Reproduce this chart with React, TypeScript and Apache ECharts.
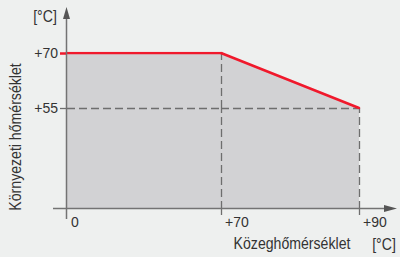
import React, { useEffect, useRef } from "react";
import * as echarts from "echarts";

// Characteristic: ambient temperature limit vs. medium temperature
const mediumTemps = [0, 70, 90]; // x break points [°C]
const ambientLimits = [70, 70, 55]; // y values at those points [°C]
const refLevel = 55; // lower ambient reference level
const xTickLabels = [0, 70, 90];
const yTickLabels = [55, 70];

const FILL = "#d2d2d4";
const RED = "#f0192c";
const DASH = "#6e6e6e";
const AXIS = "#737373";
const TXT = "#333333";
const FONT = "'Liberation Sans', Arial, sans-serif";

export default function App() {
  const ref = useRef<HTMLDivElement>(null);
  useEffect(() => {
    if (!ref.current) return;
    const chart = echarts.init(ref.current, undefined, { renderer: "svg" });
    const fmt = (v: number) => (v === 0 ? "0" : "+" + v);
    const dashed = { color: DASH, width: 1.3, type: [8, 4] as any };
    const noAxis = { show: false };
    const grids = [
      { left: 67, top: 108, width: 154, height: 101 }, // A: 0..70 x 0..55
      { left: 67, top: 53, width: 154, height: 55 }, // B: 0..70 x 55..70
      { left: 221, top: 108, width: 138, height: 101 }, // C: 70..90 x 0..55
      { left: 221, top: 53, width: 138, height: 55 }, // D: 70..90 x 55..70
    ].map((g) => ({ ...g, outerBoundsMode: "none", containLabel: false }));

    const xLab = {
      color: TXT,
      fontSize: 14,
      fontFamily: FONT,
      align: "left",
      margin: 6,
      padding: [0, 0, 0, 4],
      formatter: fmt,
    };
    const xAxes = [
      {
        gridIndex: 0, type: "value", min: mediumTemps[0], max: mediumTemps[1],
        axisLine: noAxis, splitLine: noAxis, axisTick: noAxis,
        axisLabel: { ...xLab, customValues: [xTickLabels[0]] },
      },
      {
        gridIndex: 1, type: "value", min: mediumTemps[0], max: mediumTemps[1],
        axisLine: noAxis, splitLine: noAxis, axisTick: noAxis, axisLabel: noAxis,
      },
      {
        gridIndex: 2, type: "value", min: mediumTemps[1], max: mediumTemps[2],
        axisLine: noAxis, splitLine: noAxis,
        axisTick: { show: true, length: 6, customValues: [mediumTemps[1], mediumTemps[2]], lineStyle: { color: DASH, width: 1.3 } },
        axisLabel: { ...xLab, customValues: [xTickLabels[1], xTickLabels[2]] },
      },
      {
        gridIndex: 3, type: "value", min: mediumTemps[1], max: mediumTemps[2],
        axisLine: noAxis, splitLine: noAxis, axisTick: noAxis, axisLabel: noAxis,
      },
    ];
    const yLab = { color: TXT, fontSize: 14, fontFamily: FONT, margin: 9, formatter: fmt };
    const yAxes = [
      {
        gridIndex: 0, type: "value", min: 0, max: refLevel,
        axisLine: noAxis, splitLine: noAxis,
        axisTick: { show: true, length: 7, customValues: [refLevel], lineStyle: { color: DASH, width: 1.3 } },
        axisLabel: { ...yLab, customValues: [yTickLabels[0]] },
      },
      {
        gridIndex: 1, type: "value", min: refLevel, max: ambientLimits[0],
        axisLine: noAxis, splitLine: noAxis,
        axisTick: { show: true, length: 7, customValues: [ambientLimits[0]], lineStyle: { color: RED, width: 2.5 } },
        axisLabel: { ...yLab, customValues: [yTickLabels[1]] },
      },
      {
        gridIndex: 2, type: "value", min: 0, max: refLevel,
        axisLine: noAxis, splitLine: noAxis, axisTick: noAxis, axisLabel: noAxis,
      },
      {
        gridIndex: 3, type: "value", min: refLevel, max: ambientLimits[0],
        axisLine: noAxis, splitLine: noAxis, axisTick: noAxis, axisLabel: noAxis,
      },
    ];

    const mlBase = { symbol: "none", silent: true, label: { show: false }, lineStyle: dashed };
    const series: any[] = [
      {
        type: "line", xAxisIndex: 0, yAxisIndex: 0, symbol: "none", z: 1,
        data: [[mediumTemps[0], refLevel], [mediumTemps[1], refLevel]],
        lineStyle: { width: 0, opacity: 0 },
        areaStyle: { color: FILL, opacity: 1, origin: "start" },
        markLine: { ...mlBase, data: [{ yAxis: refLevel }, { xAxis: mediumTemps[1] }] },
      },
      {
        type: "line", xAxisIndex: 1, yAxisIndex: 1, symbol: "none", z: 3,
        data: [[mediumTemps[0], ambientLimits[0]], [mediumTemps[1], ambientLimits[1]]],
        lineStyle: { width: 0, opacity: 0 },
        areaStyle: { color: FILL, opacity: 1, origin: "start" },
        markLine: { ...mlBase, data: [{ xAxis: mediumTemps[1] }] },
      },
      {
        type: "line", xAxisIndex: 2, yAxisIndex: 2, symbol: "none", z: 1,
        data: [[mediumTemps[1], refLevel], [mediumTemps[2], refLevel]],
        lineStyle: { width: 0, opacity: 0 },
        areaStyle: { color: FILL, opacity: 1, origin: "start" },
        markLine: { ...mlBase, data: [{ yAxis: refLevel }, { xAxis: mediumTemps[2] }] },
      },
      {
        type: "line", xAxisIndex: 3, yAxisIndex: 3, symbol: "none", z: 3,
        data: [[mediumTemps[1], ambientLimits[1]], [mediumTemps[2], ambientLimits[2]]],
        lineStyle: { width: 0, opacity: 0 },
        areaStyle: { color: FILL, opacity: 1, origin: "start" },
      },
      // red limit line drawn on top
      {
        type: "line", xAxisIndex: 1, yAxisIndex: 1, symbol: "none", z: 10,
        data: [[mediumTemps[0], ambientLimits[0]], [mediumTemps[1], ambientLimits[1]]],
        lineStyle: { color: RED, width: 2.5, cap: "square" },
      },
      {
        type: "line", xAxisIndex: 3, yAxisIndex: 3, symbol: "none", z: 10,
        data: [[mediumTemps[1], ambientLimits[1]], [mediumTemps[2], ambientLimits[2]]],
        lineStyle: { color: RED, width: 2.5, cap: "round" },
      },
    ];

    const title = (text: string, x: number, y: number, rotation = 0) => ({
      type: "text", z: 50, x, y, rotation, scaleX: 0.83,
      style: { text, fill: TXT, fontSize: 17, fontFamily: FONT, align: "center", verticalAlign: "middle" },
    });

    chart.setOption({
      animation: false,
      backgroundColor: "#eef0ef",
      grid: grids,
      xAxis: xAxes,
      yAxis: yAxes,
      series,
      graphic: [
        { type: "line", z: 50, shape: { x1: 66.5, y1: 219, x2: 66.5, y2: 14 }, style: { stroke: AXIS, lineWidth: 1.5 } },
        { type: "polygon", z: 50, shape: { points: [[63, 19], [66.5, 7], [70, 19]] }, style: { fill: "#555" } },
        { type: "line", z: 50, shape: { x1: 53, y1: 208.5, x2: 390, y2: 208.5 }, style: { stroke: AXIS, lineWidth: 1.5 } },
        { type: "polygon", z: 50, shape: { points: [[384, 205], [397, 208.5], [384, 212]] }, style: { fill: "#555" } },
        title("[°C]", 45, 16),
        title("[°C]", 384, 244),
        title("Közeghőmérséklet", 292, 243),
        title("Környezeti hőmérséklet", 15, 137, Math.PI / 2),
      ],
    } as any);
    return () => chart.dispose();
  }, []);
  return (
    <div
      ref={ref}
      style={{ position: "fixed", left: 0, top: 0, width: 400, height: 257 }}
    />
  );
}
